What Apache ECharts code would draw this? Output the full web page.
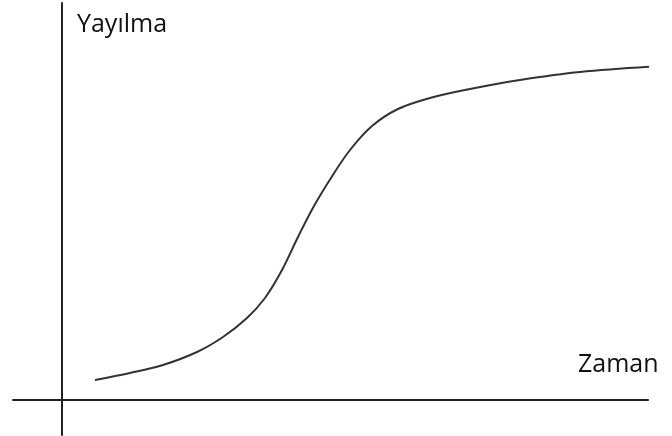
<!DOCTYPE html>
<html>
<head>
<meta charset="utf-8">
<script src="https://cdn.jsdelivr.net/npm/echarts@6/dist/echarts.min.js"></script>
<style>
  html, body { margin: 0; padding: 0; background: #fff; }
  #chart { width: 672px; height: 436px; }
</style>
</head>
<body>
<div id="chart"></div>
<script>
// S-curve (x: time units, y: spread units)
const timeValues = [5.5, 11.33, 16.83, 22.5, 26.83, 30.83, 33.83, 36.67, 39.33, 42, 44.83, 48, 51.67, 56, 61.33, 68, 76.33, 86.33, 100.17];
const spreadValues = [5, 6.75, 8.75, 12, 15.75, 20.5, 25.5, 32.5, 40.75, 48.5, 55.5, 62.5, 68.5, 72.75, 75.5, 77.75, 80, 82, 83.5];
const yLabel = "Yayılma";
const xLabel = "Zaman";

const chart = echarts.init(document.getElementById("chart"));

chart.setOption({
  animation: false,
  backgroundColor: "#fff",
  grid: { left: 13, right: 24, top: 3, bottom: 1 },
  xAxis: {
    type: "value",
    min: -8.1667,
    max: 97.6667,
    axisLine: { onZero: true, lineStyle: { color: "#222", width: 2 } },
    axisTick: { show: false },
    axisLabel: { show: false },
    splitLine: { show: false },
  },
  yAxis: {
    type: "value",
    min: -8.75,
    max: 99.25,
    axisLine: { show: true, onZero: true, lineStyle: { color: "#222", width: 2 } },
    axisTick: { show: false },
    axisLabel: { show: false },
    splitLine: { show: false },
  },
  graphic: [
    {
      type: "text",
      left: 77,
      top: 12,
      style: { text: yLabel, font: "25px 'Open Sans'", fill: "#111" },
    },
    {
      type: "text",
      left: 578,
      top: 352,
      style: { text: xLabel, font: "25px 'Open Sans'", fill: "#111" },
    },
  ],
  series: [
    {
      type: "line",
      data: timeValues.map((x, i) => [x, spreadValues[i]]),
      smooth: 0.35,
      showSymbol: false,
      clip: false,
      lineStyle: { color: "#333", width: 2 },
    },
  ],
});
</script>
</body>
</html>
